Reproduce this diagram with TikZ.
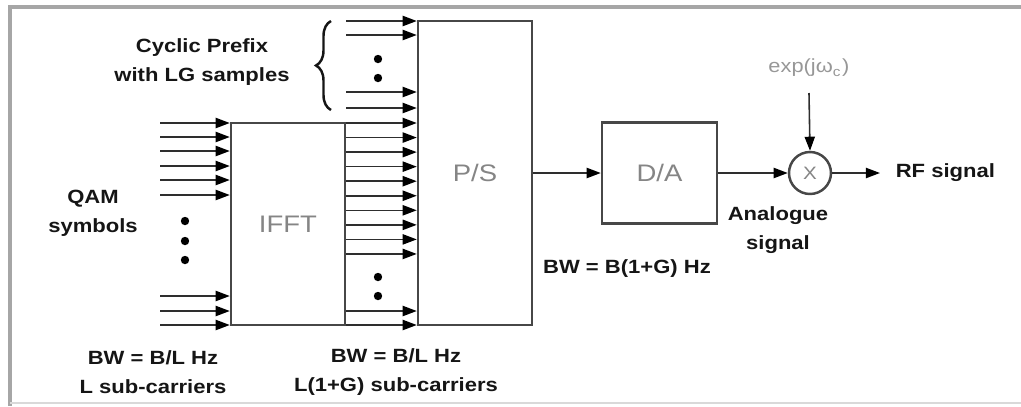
\documentclass[tikz,border=0pt]{standalone}
\usepackage{fontspec}
\setmainfont[FakeStretch=1.15]{Liberation Sans}
\usetikzlibrary{positioning,arrows.meta,decorations.pathreplacing}
\usepackage{xcolor}
\definecolor{edgegray}{HTML}{474747}
\definecolor{wiregray}{HTML}{2E2E2E}
\definecolor{labelgray}{HTML}{858585}
\definecolor{inkblack}{HTML}{151515}

\begin{document}
\begin{tikzpicture}[
  x=1cm,y=1cm,
  line join=miter,
  >={Triangle[length=4pt,width=2.9pt,color=black]},
  block/.style={draw=edgegray,line width=0.7pt,fill=white,inner sep=0pt,text=labelgray,font=\fontsize{6.8}{8}\selectfont},
  sig/.style={->,draw=wiregray,line width=0.45pt},
  note/.style={font=\fontsize{5.45}{8.25}\selectfont\bfseries,text=inkblack,align=center,inner sep=0pt},
  blob/.style={fill=black}
]
  \path[use as bounding box] (0,0) rectangle (10.21,4.06);
  \draw[gray!70,line width=1pt] (0.10,0) -- (0.10,3.99) -- (10.21,3.99);
  \draw[gray!30,line width=0.3pt] (0.10,0.03) -- (10.21,0.03);

  \node[block,minimum width=1.14cm,minimum height=2.02cm] (ifft) at (2.88,1.82) {IFFT};
  \node[block,minimum width=1.14cm,minimum height=3.04cm] (ps) at (4.75,2.33) {P/S};
  \node[block,minimum width=1.15cm,minimum height=1.01cm] (da) at (6.595,2.33) {D/A};
  \node[block,circle,minimum size=0.42cm,font=\fontsize{5.1}{6}\selectfont] (mix) at (8.10,2.33) {X};

  \node[note] (cp) at (2.02,3.44) {Cyclic Prefix\\with LG samples};
  \node[note] (qam) at (0.93,1.925) {QAM\\symbols};
  \node[note] (bwin) at (1.53,0.335) {BW = B/L Hz\\L sub-carriers};
  \node[note] (bwmid) at (3.96,0.335) {BW = B/L Hz\\L(1+G) sub-carriers};
  \node[note] (bwout) at (6.27,1.37) {BW = B(1+G) Hz};
  \node[note] (analog) at (7.78,1.755) {Analogue\\signal};
  \node[note,anchor=west,inner xsep=4.3pt] (rf) at (8.80,2.33) {RF signal};
  \node[font=\fontsize{5.4}{6}\selectfont,text=labelgray!85,inner sep=0pt] (osc) at (8.09,3.38) {exp(jω\textsubscript{c})};

  \foreach \y in {2.83,2.69,2.55,2.40,2.26,2.11,1.10,0.95,0.81} {
    \draw[sig] (1.60,\y) -- (ifft.west |- 0,\y);
  }
  \foreach \i in {0,...,9} {
    \draw[sig] (ifft.east |- 0,{2.83-0.1455*\i}) -- (ps.west |- 0,{2.83-0.1455*\i});
  }
  \foreach \y in {3.85,3.71,3.14,2.98,0.95,0.81} {
    \draw[sig] (ifft.east |- 0,\y) -- (ps.west |- 0,\y);
  }

  \foreach \y in {1.85,1.65,1.46} {
    \fill[blob] (1.85,\y) circle (0.042);
  }
  \foreach \y in {3.47,3.28,1.29,1.10} {
    \fill[blob] (3.78,\y) circle (0.042);
  }

  \draw[decorate,decoration={brace,amplitude=0.15cm},draw=inkblack,line width=0.7pt] (3.31,2.96) -- (3.31,3.85);

  \draw[sig] (ps.east) -- (da.west);
  \draw[sig] (da.east) -- (mix.west);
  \draw[sig] (mix.east) -- (rf.west);
  \draw[sig] ([yshift=-0.25cm]osc.center) -- (mix.north);
\end{tikzpicture}
\end{document}
